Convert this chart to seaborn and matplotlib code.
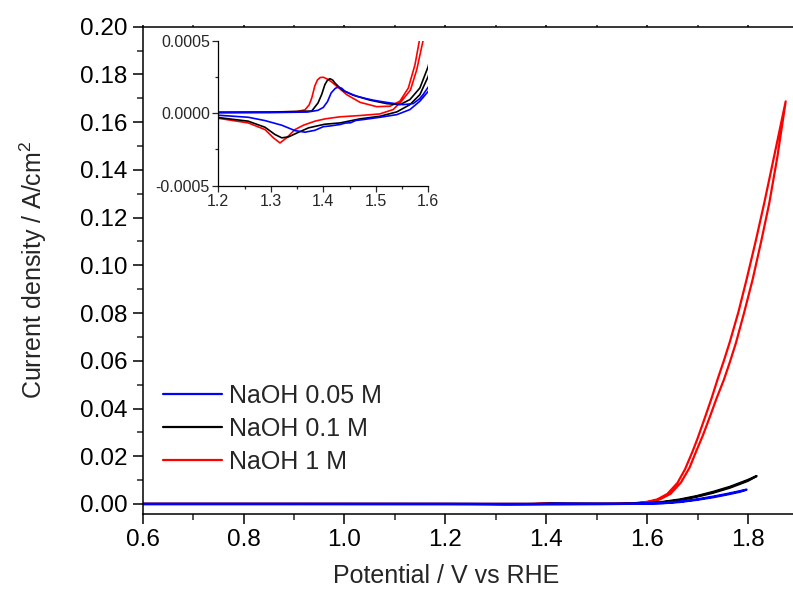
import matplotlib
matplotlib.use("Agg")
import matplotlib.pyplot as plt
from matplotlib.ticker import MultipleLocator, FormatStrFormatter
import seaborn as sns
import pandas as pd

# Cyclic voltammograms (potential in V vs RHE, current density in A/cm2)
# NaOH 0.05 M
e_fwd_005 = [0.60, 0.90, 1.20, 1.30, 1.37, 1.39, 1.400, 1.408, 1.415, 1.423, 1.429, 1.435,
             1.441, 1.452, 1.464, 1.480, 1.495, 1.511, 1.527, 1.552, 1.571, 1.583, 1.590,
             1.601, 1.632, 1.665, 1.698, 1.731, 1.760, 1.784, 1.797]
j_fwd_005 = [0.0, 0.000002, 0.000003, 0.000004, 0.000008, 0.000020, 0.000040, 0.000080,
             0.000140, 0.000172, 0.000180, 0.000172, 0.000152, 0.000134, 0.000117, 0.000102,
             0.000090, 0.000080, 0.000071, 0.000059, 0.000066, 0.000098, 0.000128, 0.000186,
             0.0004, 0.0010, 0.0019, 0.0031, 0.0043, 0.0054, 0.0060]
e_rev_005 = [1.797, 1.784, 1.760, 1.731, 1.698, 1.665, 1.632, 1.600, 1.584, 1.565, 1.540,
             1.508, 1.476, 1.462, 1.452, 1.442, 1.432, 1.413, 1.400, 1.384, 1.365, 1.346,
             1.321, 1.289, 1.257, 1.20, 0.90, 0.60]
j_rev_005 = [0.0060, 0.0051, 0.0040, 0.0028, 0.0017, 0.0008, 0.0003, 0.000151, 0.000083,
             0.000025, -0.000010, -0.000028, -0.000044, -0.000050, -0.000066, -0.000068,
             -0.000078, -0.000088, -0.000093, -0.000118, -0.000131, -0.000120, -0.000083,
             -0.000051, -0.000028, -0.000014, -0.000008, -0.000005]

# NaOH 0.1 M
e_fwd_01 = [0.60, 0.90, 1.20, 1.30, 1.378, 1.390, 1.397, 1.403, 1.408, 1.4127, 1.418, 1.422,
            1.430, 1.438, 1.457, 1.489, 1.521, 1.546, 1.565, 1.584, 1.600, 1.632, 1.665,
            1.698, 1.731, 1.764, 1.784, 1.800, 1.817]
j_fwd_01 = [0.0, 0.000003, 0.000006, 0.000007, 0.000015, 0.000071, 0.000130, 0.000197,
            0.000228, 0.000238, 0.000228, 0.000209, 0.000180, 0.000156, 0.000124, 0.000090,
            0.000066, 0.000059, 0.000094, 0.000174, 0.000324, 0.0009, 0.0019, 0.0033,
            0.0051, 0.0072, 0.0088, 0.0101, 0.0117]
e_rev_01 = [1.817, 1.800, 1.784, 1.764, 1.731, 1.698, 1.665, 1.632, 1.600, 1.584, 1.565,
            1.540, 1.508, 1.470, 1.432, 1.403, 1.394, 1.372, 1.353, 1.334, 1.321, 1.308,
            1.289, 1.257, 1.20, 0.90, 0.60]
j_rev_01 = [0.0117, 0.0097, 0.0084, 0.0068, 0.0047, 0.0030, 0.0016, 0.0007, 0.000255,
            0.000128, 0.000059, 0.000009, -0.000021, -0.000039, -0.000067, -0.000076,
            -0.000083, -0.000101, -0.000131, -0.000163, -0.000170, -0.000147, -0.000097,
            -0.000055, -0.000030, -0.000010, -0.000006]

# NaOH 1 M
e_fwd_1 = [0.60, 0.90, 1.20, 1.30, 1.349, 1.365, 1.373, 1.378, 1.384, 1.389, 1.394, 1.400,
           1.408, 1.416, 1.426, 1.4446, 1.470, 1.5017, 1.527, 1.546, 1.562, 1.5747, 1.584,
           1.600, 1.620, 1.640, 1.660, 1.675, 1.690, 1.700, 1.715, 1.728, 1.740, 1.752,
           1.764, 1.781, 1.797, 1.815, 1.832, 1.851, 1.8746]
j_fwd_1 = [0.0, 0.000003, 0.000007, 0.000009, 0.000011, 0.000023, 0.000057, 0.000105,
           0.000190, 0.000230, 0.000246, 0.000248, 0.000235, 0.000215, 0.000185, 0.000128,
           0.000075, 0.000045, 0.000048, 0.000083, 0.000174, 0.000335, 0.00052, 0.0009,
           0.0019, 0.0042, 0.0088, 0.0145, 0.0220, 0.0275, 0.0365, 0.0445, 0.0525, 0.0600,
           0.0680, 0.0805, 0.0940, 0.1100, 0.1260, 0.1450, 0.1687]
e_rev_1 = [1.8746, 1.858, 1.842, 1.826, 1.809, 1.792, 1.776, 1.764, 1.752, 1.738, 1.726,
           1.710, 1.698, 1.684, 1.667, 1.646, 1.625, 1.605, 1.590, 1.578, 1.566, 1.549,
           1.533, 1.5076, 1.470, 1.4317, 1.4037, 1.384, 1.362, 1.346, 1.330, 1.3175, 1.305,
           1.289, 1.257, 1.20, 0.90, 0.60]
j_rev_1 = [0.1687, 0.1453, 0.1260, 0.1100, 0.0940, 0.0800, 0.0675, 0.0595, 0.0520, 0.0445,
           0.0375, 0.0285, 0.0225, 0.0152, 0.0090, 0.0042, 0.0019, 0.0009, 0.00050, 0.00030,
           0.00016, 0.000083, 0.000025, -0.000005, -0.000016, -0.000025, -0.000039,
           -0.000055, -0.000083, -0.000113, -0.000170, -0.000205, -0.000170, -0.000113,
           -0.000067, -0.000035, -0.000012, -0.000006]

labels = ["NaOH 0.05 M", "NaOH 0.1 M", "NaOH 1 M"]
colors = ["#0000FF", "#000000", "#FF0000"]

sns.set_style("ticks")
plt.rcParams["font.family"] = ["Liberation Sans", "DejaVu Sans"]
plt.rcParams["mathtext.fontset"] = "custom"
plt.rcParams["mathtext.rm"] = "Liberation Sans"
plt.rcParams["mathtext.it"] = "Liberation Sans:italic"


def scan_frame(e_fwd, j_fwd, e_rev, j_rev):
    return pd.DataFrame({"potential": e_fwd + e_rev, "current": j_fwd + j_rev})


scans = [
    scan_frame(e_fwd_005, j_fwd_005, e_rev_005, j_rev_005),
    scan_frame(e_fwd_01, j_fwd_01, e_rev_01, j_rev_01),
    scan_frame(e_fwd_1, j_fwd_1, e_rev_1, j_rev_1),
]

W, H = 793, 599
fig = plt.figure(figsize=(W / 100, H / 100), dpi=100)

# main axes (the right end runs past the figure edge)
x0, x1, y_top, y_bot = 142.7, 798.5, 26.7, 513.5
ax = fig.add_axes([x0 / W, 1 - y_bot / H, (x1 - x0) / W, (y_bot - y_top) / H])

draw_order = [2, 1, 0]
for i in draw_order:
    sns.lineplot(data=scans[i], x="potential", y="current", sort=False, estimator=None,
                 color=colors[i], lw=1.6, label=labels[i], ax=ax)

ax.set_xlim(0.6, 1.9)
ax.set_ylim(-0.004, 0.20)
ax.xaxis.set_major_locator(MultipleLocator(0.2))
ax.xaxis.set_minor_locator(MultipleLocator(0.1))
ax.yaxis.set_major_locator(MultipleLocator(0.02))
ax.yaxis.set_minor_locator(MultipleLocator(0.01))
ax.xaxis.set_major_formatter(FormatStrFormatter("%.1f"))
ax.yaxis.set_major_formatter(FormatStrFormatter("%.2f"))
ax.tick_params(which="major", direction="out", length=7, width=1.1, labelsize=17.5, pad=4,
               colors="black")
ax.tick_params(which="minor", direction="out", length=4.5, width=1.1)
# tiny marks along the top edge
ax.tick_params(axis="x", which="both", top=True, labeltop=False)
for tl in ax.xaxis.get_major_ticks() + ax.xaxis.get_minor_ticks():
    tl.tick2line.set_markersize(1.5)
for sp in ["left", "bottom", "top"]:
    ax.spines[sp].set_linewidth(1.1)
    ax.spines[sp].set_color("black")
ax.spines["right"].set_visible(False)

ax.set_xlabel("Potential / V vs RHE", fontsize=18)
ax.set_ylabel(r"Current density / A/cm$^\mathregular{2}$", fontsize=18)
ax.xaxis.set_label_coords(0.463, -0.103)
ax.yaxis.set_label_coords(-0.143, 0.5)

handles, labs = ax.get_legend_handles_labels()
order = [labs.index(l) for l in labels]
ax.legend([handles[k] for k in order], [labs[k] for k in order],
          loc="upper left", bbox_to_anchor=(163 / W, 1 - 384 / H),
          bbox_transform=fig.transFigure, frameon=False, fontsize=18,
          handlelength=2.36, handletextpad=0.28, labelspacing=0.36,
          borderpad=0, borderaxespad=0)

# inset: redox region
ix0, ix1, iy_top, iy_bot = 218.3, 428.3, 40.7, 185.7
axin = fig.add_axes([ix0 / W, 1 - iy_bot / H, (ix1 - ix0) / W, (iy_bot - iy_top) / H])
for i in draw_order:
    sns.lineplot(data=scans[i], x="potential", y="current", sort=False, estimator=None,
                 color=colors[i], lw=1.2, ax=axin, legend=False)
axin.set_xlim(1.2, 1.6)
axin.set_ylim(-0.0005, 0.0005)
axin.xaxis.set_major_locator(MultipleLocator(0.1))
axin.xaxis.set_minor_locator(MultipleLocator(0.05))
axin.yaxis.set_major_locator(MultipleLocator(0.0005))
axin.yaxis.set_minor_locator(MultipleLocator(0.00025))
axin.xaxis.set_major_formatter(FormatStrFormatter("%.1f"))
axin.yaxis.set_major_formatter(FormatStrFormatter("%.4f"))
axin.tick_params(which="major", direction="out", length=4, width=0.9, labelsize=11.5, pad=2)
axin.tick_params(which="minor", direction="out", length=2.5, width=0.9)
axin.set_xlabel("")
axin.set_ylabel("")
for sp in ["top", "right"]:
    axin.spines[sp].set_visible(False)
for sp in ["left", "bottom"]:
    axin.spines[sp].set_linewidth(0.9)
    axin.spines[sp].set_color("black")
axin.patch.set_alpha(0)

fig.savefig("out.png", dpi=100)
